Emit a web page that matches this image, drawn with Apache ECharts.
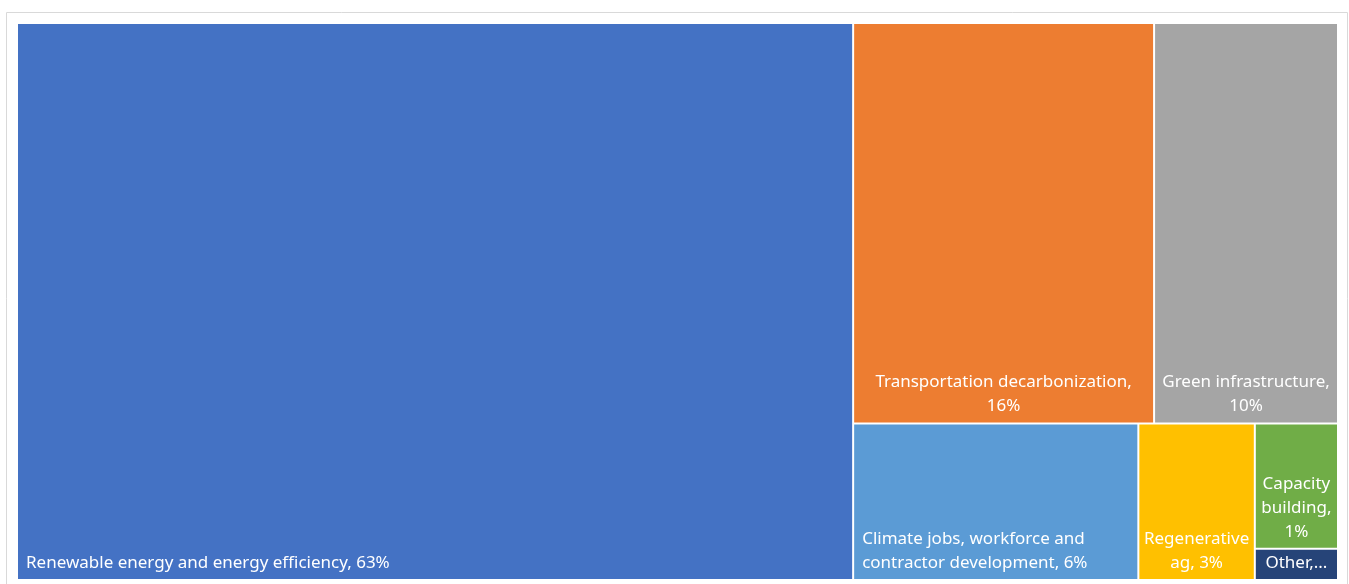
<!DOCTYPE html>
<html>
<head>
<meta charset="utf-8">
<script src="https://cdn.jsdelivr.net/npm/echarts@6/dist/echarts.min.js"></script>
<style>
html, body { margin: 0; padding: 0; background: #fff; }
#chart { width: 1349px; height: 584px; }
</style>
</head>
<body>
<div id="chart"></div>
<script>
var names = ['Renewable energy and energy efficiency', 'Transportation decarbonization', 'Green infrastructure',
    'Climate jobs, workforce and contractor development', 'Regenerative ag', 'Capacity building', 'Other'];
var values = [62.6, 16.2, 9.9, 6.0, 2.45, 1.4, 0.35];
// label text as wrapped in the original
var labels = ['Renewable energy and energy efficiency, 63%', 'Transportation decarbonization,\n16%', 'Green infrastructure,\n10%',
    'Climate jobs, workforce and\ncontractor development, 6%', 'Regenerative\nag, 3%', 'Capacity\nbuilding,\n1%', 'Other,...'];
var colors = ['#4472C4', '#ED7D31', '#A5A5A5', '#5B9BD5', '#FFC000', '#70AD47', '#264478'];
var leftLabels = [0, 3];

var dom = document.getElementById('chart');
var myChart = echarts.init(dom);

var seriesData = names.map(function (n, i) {
    var left = leftLabels.indexOf(i) >= 0;
    return {
        name: n,
        value: values[i],
        itemStyle: { color: colors[i] },
        label: {
            formatter: labels[i],
            position: left ? 'insideBottomLeft' : 'insideBottom',
            align: left ? 'left' : 'center',
            padding: left ? [0, 0, 4, 8] : [0, 0, 4, 0]
        }
    };
});

var option = {
    animation: false,
    graphic: [{
        type: 'rect',
        shape: { x: 6.5, y: 12.5, width: 1341, height: 600 },
        style: { fill: 'none', stroke: '#d9d9d9', lineWidth: 1 },
        silent: true
    }],
    series: [{
        type: 'treemap',
        left: 18,
        top: 24,
        right: 12,
        bottom: 5,
        squareRatio: 1.2,
        roam: false,
        nodeClick: false,
        breadcrumb: { show: false },
        label: {
            show: true,
            color: '#fff',
            fontFamily: 'Noto Sans',
            fontSize: 17,
            lineHeight: 24,
            distance: 0,
            overflow: 'none'
        },
        upperLabel: { show: false },
        itemStyle: { borderWidth: 0, gapWidth: 2, borderColor: '#fff' },
        levels: [{ itemStyle: { gapWidth: 2, borderWidth: 0 } }],
        emphasis: { disabled: true },
        data: seriesData
    }]
};

myChart.setOption(option, true);
</script>
</body>
</html>
